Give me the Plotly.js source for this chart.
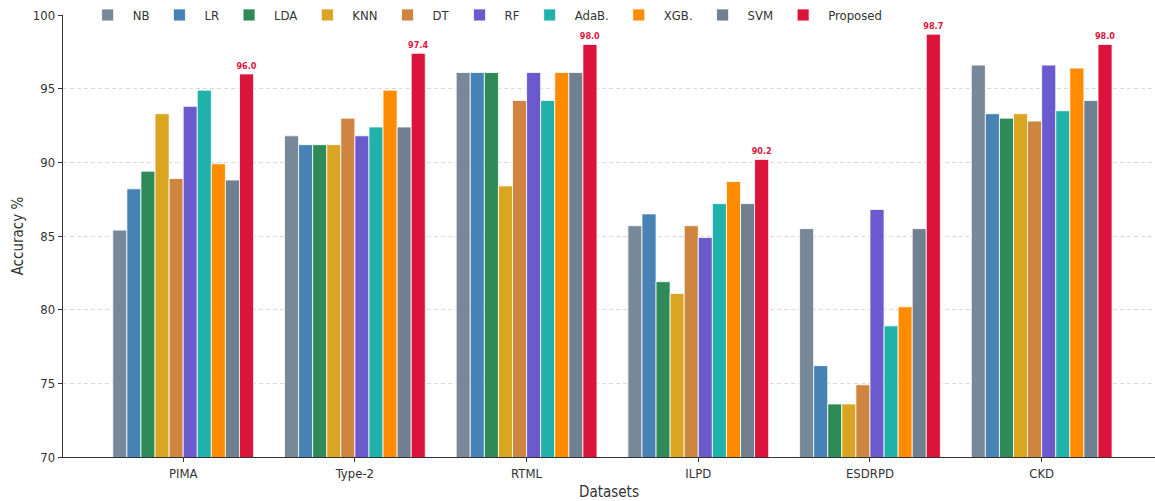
<!DOCTYPE html>
<html>
<head>
<meta charset="utf-8">
<script src="https://cdn.plot.ly/plotly-3.0.1.min.js"></script>
<style>html,body{margin:0;padding:0;background:#fff;}#chart{width:1155px;height:501px;}</style>
</head>
<body>
<div id="chart"></div>
<script>
const datasets = ["PIMA", "Type-2", "RTML", "ILPD", "ESDRPD", "CKD"];
const NB       = [85.4, 91.8, 96.1, 85.7, 85.5, 96.6];
const LR       = [88.2, 91.2, 96.1, 86.5, 76.2, 93.3];
const LDA      = [89.4, 91.2, 96.1, 81.9, 73.6, 93.0];
const KNN      = [93.3, 91.2, 88.4, 81.1, 73.6, 93.3];
const DT       = [88.9, 93.0, 94.2, 85.7, 74.9, 92.8];
const RF       = [93.8, 91.8, 96.1, 84.9, 86.8, 96.6];
const AdaB     = [94.9, 92.4, 94.2, 87.2, 78.9, 93.5];
const XGB      = [89.9, 94.9, 96.1, 88.7, 80.2, 96.4];
const SVM      = [88.8, 92.4, 96.1, 87.2, 85.5, 94.2];
const Proposed = [96.0, 97.4, 98.0, 90.2, 98.7, 98.0];
const yTicks   = [70, 75, 80, 85, 90, 95, 100];

const seriesNames = ["NB", "LR", "LDA", "KNN", "DT", "RF", "AdaB.", "XGB.", "SVM", "Proposed"];
const seriesVals  = [NB, LR, LDA, KNN, DT, RF, AdaB, XGB, SVM, Proposed];
const colors = ["#778899", "#4682B4", "#2E8B57", "#DAA520", "#CD853F", "#6A5ACD", "#20B2AA", "#FF8C00", "#708090", "#DC143C"];

const font = "DejaVu Sans Condensed, DejaVu Sans, sans-serif";

const traces = seriesNames.map((n, i) => {
  const t = {
    type: "bar",
    name: n,
    x: datasets,
    y: seriesVals[i],
    marker: {color: colors[i], line: {color: "#ffffff", width: 0.8}},
    hoverinfo: "x+y+name"
  };
  if (n === "Proposed") {
    t.text = seriesVals[i].map(v => v.toFixed(1));
    t.texttemplate = "<b>%{text}</b>";
    t.textposition = "outside";
    t.constraintext = "none";
    t.textfont = {color: "#DC143C", size: 9, family: font};
    t.cliponaxis = false;
  }
  return t;
});

const layout = {
  width: 1155, height: 501,
  margin: {l: 63, r: 0, t: 15, b: 44, autoexpand: false},
  paper_bgcolor: "#ffffff", plot_bgcolor: "#ffffff",
  font: {family: font, color: "#333333", size: 12},
  barmode: "group",
  bargap: 0.18,
  bargroupgap: 0,
  showlegend: true,
  legend: {
    orientation: "h", x: 0.018, xanchor: "left", y: 1.0, yanchor: "middle",
    bgcolor: "rgba(0,0,0,0)", font: {size: 13, family: font, color: "#333"},
    itemwidth: 40, traceorder: "normal"
  },
  xaxis: {
    range: [-0.7, 5.66],
    showline: true, linecolor: "#333333", linewidth: 1.3,
    ticks: "outside", ticklen: 4, tickcolor: "#333333",
    tickfont: {size: 13},
    title: {text: "Datasets", font: {size: 15}, standoff: 6},
    showgrid: false, zeroline: false
  },
  yaxis: {
    range: [70, 100],
    tickvals: yTicks,
    showline: true, linecolor: "#333333", linewidth: 1.3,
    ticks: "outside", ticklen: 4, tickcolor: "#333333",
    tickfont: {size: 13},
    title: {text: "Accuracy %", font: {size: 15}, standoff: 5},
    showgrid: true, gridcolor: "#d9d9d9", griddash: "4px,3px", gridwidth: 1,
    zeroline: false
  }
};

Plotly.newPlot("chart", traces, layout, {displayModeBar: false, staticPlot: true});
</script>
</body>
</html>
